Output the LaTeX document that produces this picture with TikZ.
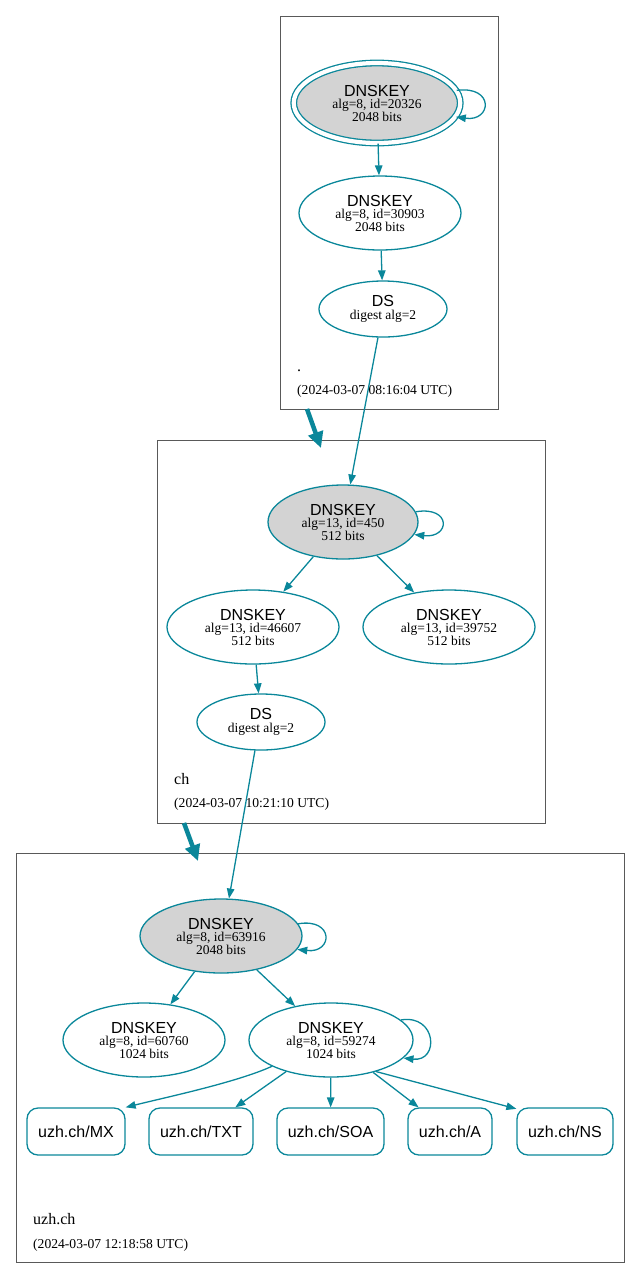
\documentclass[tikz,border=0pt]{standalone}
\usepackage{fontspec}
\setmainfont{Liberation Serif}
\setsansfont{Liberation Sans}
\usetikzlibrary{shapes.geometric,arrows.meta}
\definecolor{secure}{HTML}{0A879A}
\definecolor{kskfill}{HTML}{D3D3D3}
\newcommand{\keyhead}[1]{{\sffamily\fontsize{16}{16}\selectfont #1}}

\begin{document}
\begin{tikzpicture}[x=1pt,y=-1pt,
  zonebox/.style={draw=black!65, line width=0.7pt, inner sep=0pt},
  keynode/.style={ellipse, draw=secure, line width=1.3pt, inner sep=0pt, align=center, font=\fontsize{13.5}{12.5}\selectfont},
  ksk/.style={keynode, fill=kskfill},
  rrnode/.style={rectangle, rounded corners=11pt, draw=secure, line width=1.3pt, font=\sffamily\fontsize{16}{18}\selectfont, minimum height=47pt, inner sep=0pt},
  link/.style={draw=secure, line width=1.3pt, -{Triangle[length=10pt,width=7.5pt]}},
  deleg/.style={draw=secure, line width=4.5pt, -{Triangle[length=16pt,width=15pt]}},
  zonename/.style={anchor=base west, inner sep=0pt, font=\fontsize{16}{18}\selectfont},
  zonedate/.style={anchor=base west, inner sep=0pt, font=\fontsize{13.6}{15}\selectfont}]
\useasboundingbox (0,0) rectangle (640,1278);

% zones
\node[zonebox, minimum width=218pt, minimum height=393pt] (rootzone) at (389,212.5) {};
\node[zonebox, minimum width=388pt, minimum height=383pt] (chzone) at (351,631.5) {};
\node[zonebox, minimum width=608pt, minimum height=409pt] (uzhzone) at (320,1057.5) {};

\node[zonename] (rootname) at (297,371) {.};
\node[zonedate] (rootdate) at (297,394) {(2024-03-07 08:16:04 UTC)};
\node[zonename] (chname) at (174,784) {ch};
\node[zonedate] (chdate) at (174,807) {(2024-03-07 10:21:10 UTC)};
\node[zonename] (uzhname) at (33,1224) {uzh.ch};
\node[zonedate] (uzhdate) at (33,1248) {(2024-03-07 12:18:58 UTC)};

% root
\node[ksk, double=white, double distance=4.2pt, minimum width=166.5pt, minimum height=80pt] (rootksk) at (377,103)
  {\keyhead{DNSKEY}\\alg=8, id=20326\\2048 bits};
\node[keynode, minimum width=162pt, minimum height=74pt] (rootzsk) at (380,213)
  {\keyhead{DNSKEY}\\alg=8, id=30903\\2048 bits};
\node[keynode, minimum width=128pt, minimum height=56pt] (rootds) at (383,309)
  {\keyhead{DS}\\digest alg=2};

% ch
\node[ksk, minimum width=150pt, minimum height=74pt] (chksk) at (343,522)
  {\keyhead{DNSKEY}\\alg=13, id=450\\512 bits};
\node[keynode, minimum width=172pt, minimum height=74pt] (chzska) at (253,627)
  {\keyhead{DNSKEY}\\alg=13, id=46607\\512 bits};
\node[keynode, minimum width=172pt, minimum height=74pt] (chzskb) at (449,627)
  {\keyhead{DNSKEY}\\alg=13, id=39752\\512 bits};
\node[keynode, minimum width=128pt, minimum height=56pt] (chds) at (261,722)
  {\keyhead{DS}\\digest alg=2};

% uzh.ch
\node[ksk, minimum width=162pt, minimum height=74pt] (uzhksk) at (221,936)
  {\keyhead{DNSKEY}\\alg=8, id=63916\\2048 bits};
\node[keynode, minimum width=162pt, minimum height=74pt] (uzhzska) at (144,1040)
  {\keyhead{DNSKEY}\\alg=8, id=60760\\1024 bits};
\node[keynode, minimum width=164pt, minimum height=74pt] (uzhzskb) at (331,1040)
  {\keyhead{DNSKEY}\\alg=8, id=59274\\1024 bits};

\node[rrnode, minimum width=98pt] (mx) at (76,1131.5) {uzh.ch/MX};
\node[rrnode, minimum width=104pt] (txt) at (201,1131.5) {uzh.ch/TXT};
\node[rrnode, minimum width=107pt] (soa) at (330.5,1131.5) {uzh.ch/SOA};
\node[rrnode, minimum width=84pt] (arec) at (450,1131.5) {uzh.ch/A};
\node[rrnode, minimum width=96pt] (ns) at (565,1131.5) {uzh.ch/NS};

% delegations
\coordinate (rootout) at (307,409);
\coordinate (chin) at (321,448);
\coordinate (chout) at (184,823);
\coordinate (uzhin) at (198,861);
\draw[deleg] (rootout) -- (chin);
\draw[deleg] (chout) -- (uzhin);

% signatures
\draw[link] (rootksk.9) .. controls +(38,-5) and +(36,5) .. (rootksk.-10);
\draw[link] (rootksk) -- (rootzsk);
\draw[link] (rootzsk) -- (rootds);
\draw[link] (rootds.-100) -- (chksk.79);

\draw[link] (chksk.8) .. controls +(36,-6) and +(36,4) .. (chksk.-10);
\draw[link] (chksk) -- (chzska);
\draw[link] (chksk) -- (chzskb);
\draw[link] (chzska) -- (chds);
\draw[link] (chds.-102) -- (uzhksk.78);

\draw[link] (uzhksk.9) .. controls +(36,-6) and +(36,4) .. (uzhksk.-10);
\draw[link] (uzhksk) -- (uzhzska);
\draw[link] (uzhksk) -- (uzhzskb);
\draw[link] (uzhzskb.16) .. controls +(36,-6) and +(36,4) .. (uzhzskb.-14);

\draw[link] (uzhzskb.-156) .. controls +(-35,16) and +(40,-10) .. (mx.north east);
\draw[link] (uzhzskb) -- (txt);
\draw[link] (uzhzskb) -- (soa);
\draw[link] (uzhzskb) -- (arec);
\draw[link] (uzhzskb.-35) -- (ns.155);
\end{tikzpicture}
\end{document}
